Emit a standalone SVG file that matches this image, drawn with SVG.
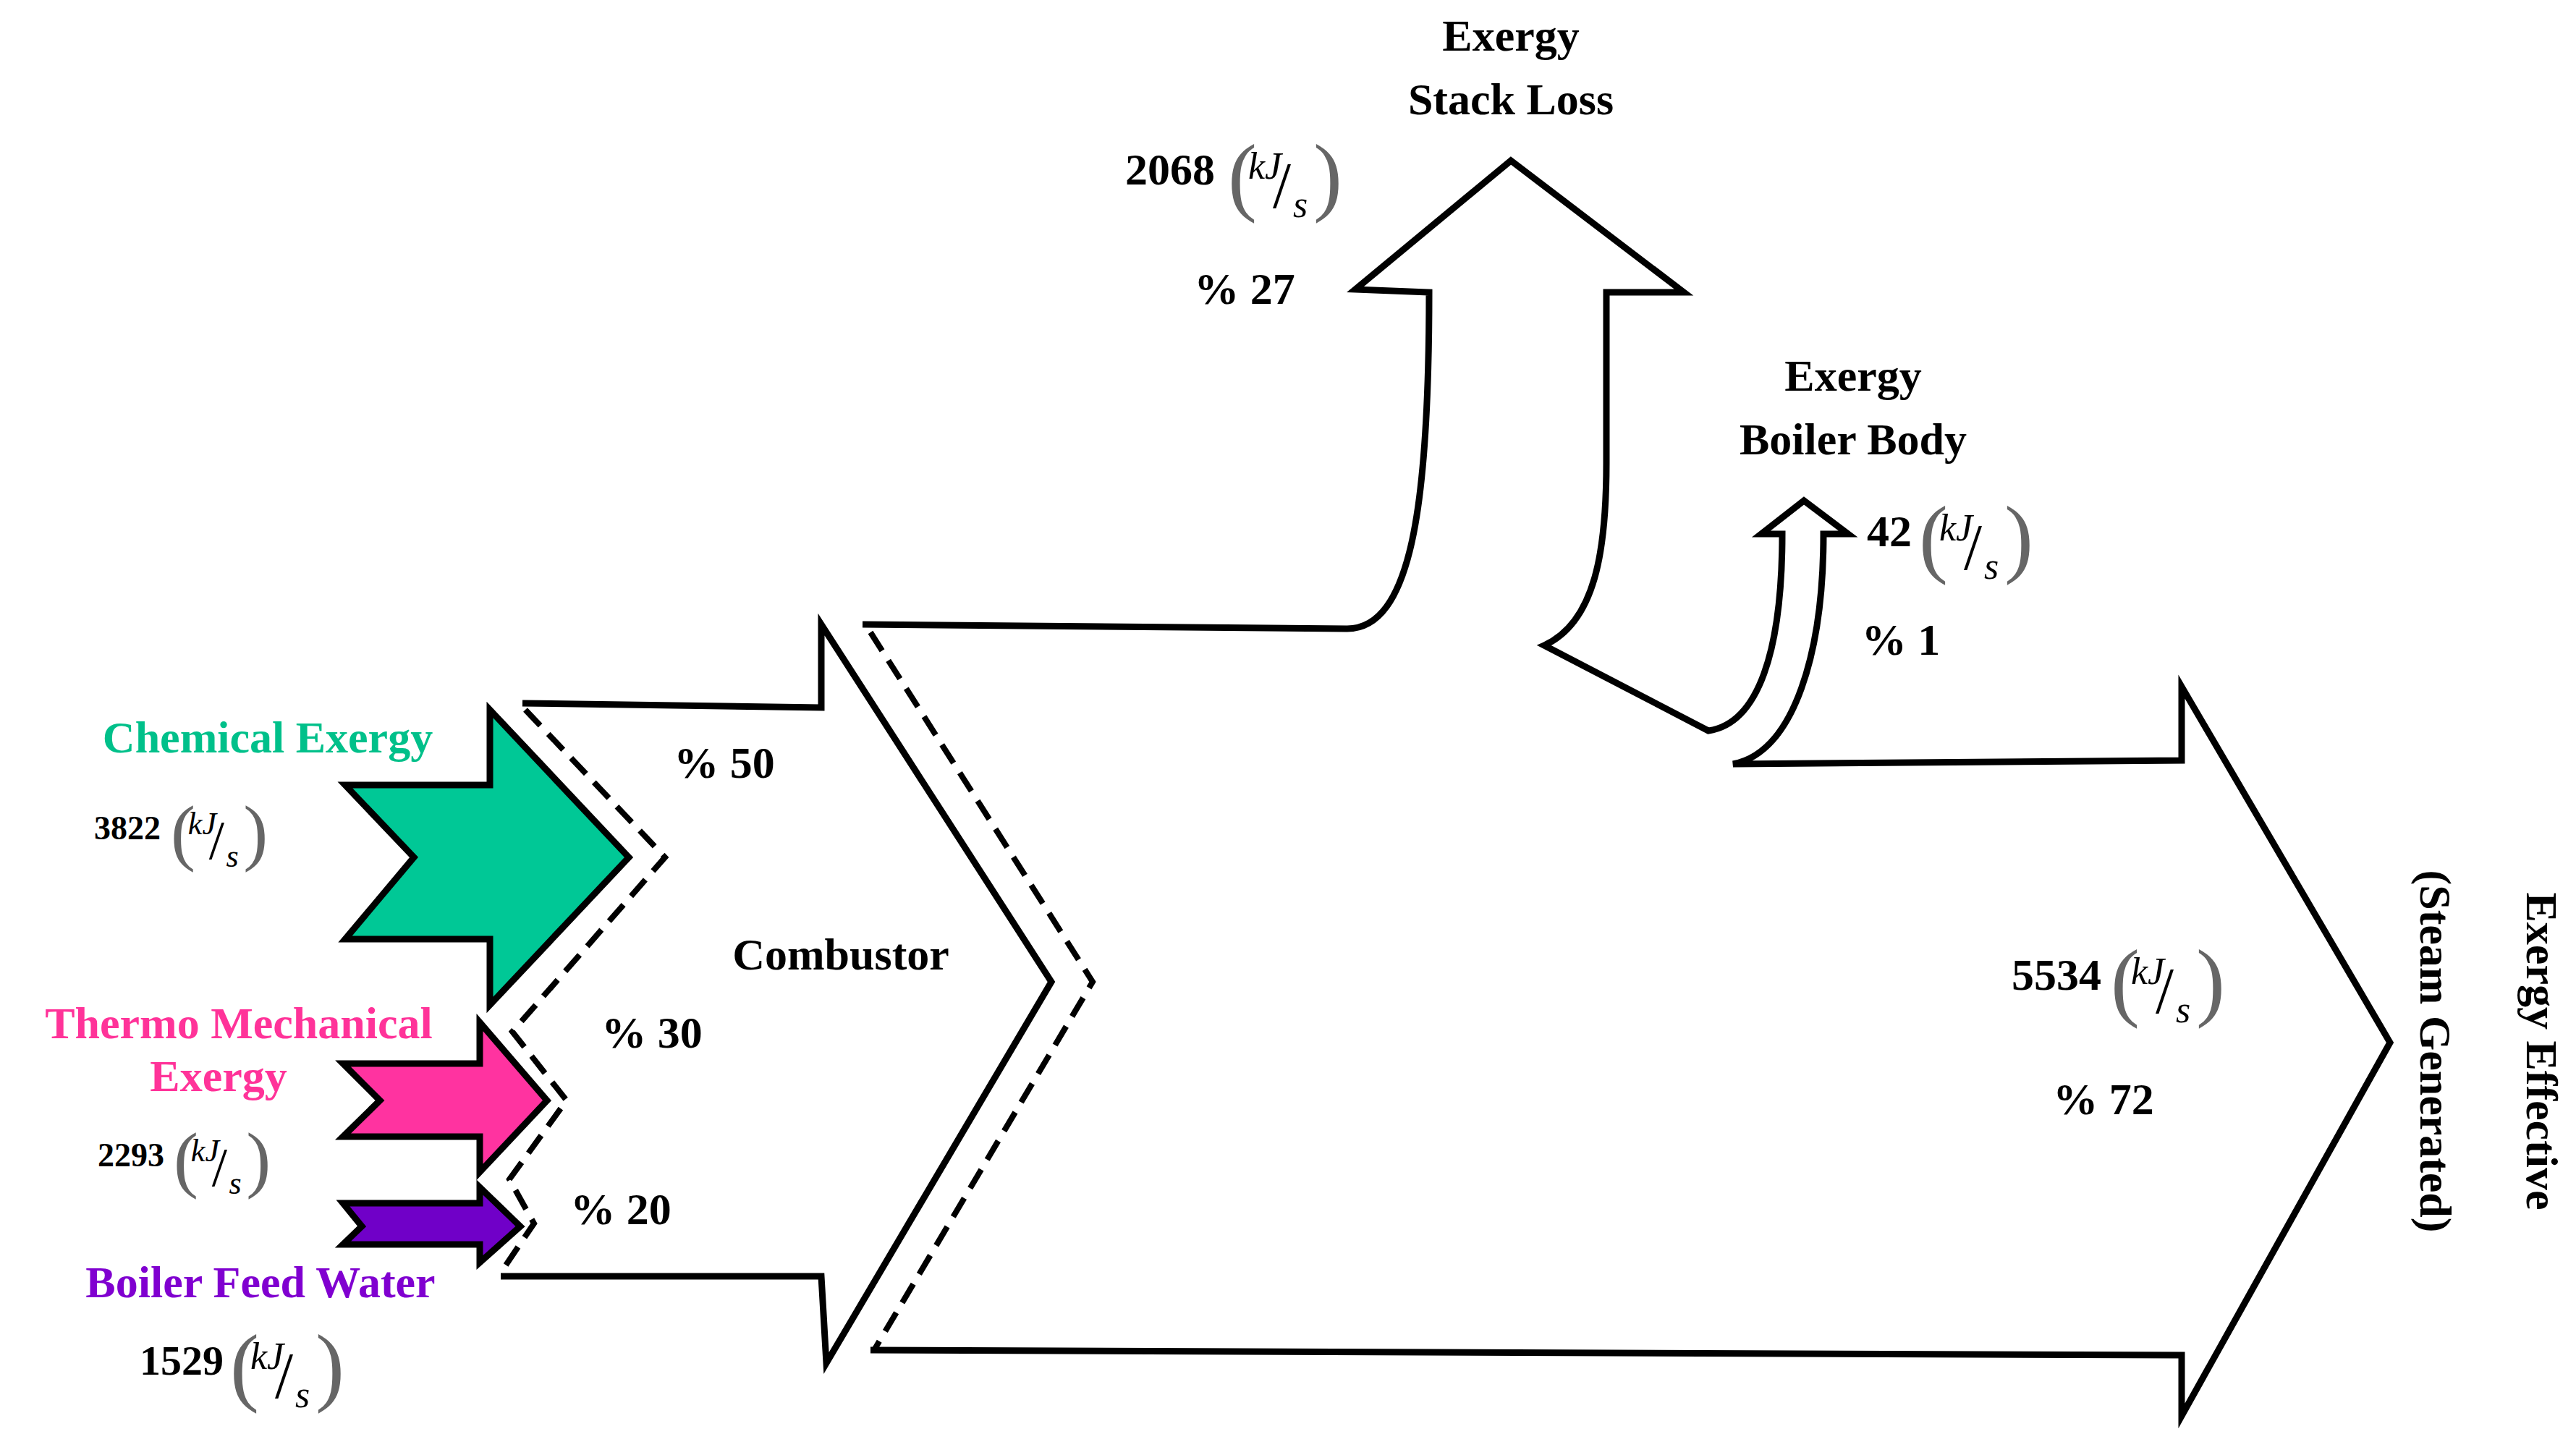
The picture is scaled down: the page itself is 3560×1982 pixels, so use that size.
<svg xmlns="http://www.w3.org/2000/svg" xmlns:xlink="http://www.w3.org/1999/xlink" width="3560" height="1982" viewBox="0 0 3560 1982">
<style>
.o{fill:none;stroke:#000;stroke-width:9;stroke-linejoin:miter}
.d{fill:none;stroke:#000;stroke-width:8;stroke-dasharray:30 16}
.t{font-family:"Liberation Serif",serif;font-weight:bold;font-size:62px;fill:#000}
.m{text-anchor:middle}
.fp{font-family:"Liberation Serif",serif;font-size:120px;fill:#666}
.fi{font-family:"Liberation Serif",serif;font-style:italic;font-size:52px;fill:#000}
.fs{font-family:"Liberation Serif",serif;font-size:90px;fill:#000}
</style>
<defs>
<g id="frac">
<text class="fp" x="0" y="28">(</text>
<text class="fi" x="28" y="-8">kJ</text>
<text class="fs" x="62" y="32">/</text>
<text class="fi" x="90" y="45">s</text>
<text class="fp" x="118" y="28">)</text>
</g>
</defs>
<rect width="3560" height="1982" fill="#fff"/>
<g id="connectors">
<path class="o" d="M722,972 L1135,978 L1135,863 L1453,1357 L1142,1884 L1135,1764 L692,1764"/>
<path class="d" d="M726,981 L919,1185 L708,1426 L783,1521 L704,1630 L738,1691 L692,1759"/>
<path class="d" d="M1203,874 L1510,1357 L1208,1866"/>
</g>
<g id="main-flow">
<path class="o" d="M1192,863 L1861,869 C1950,870 1975,700 1975,404 L1873,400 L2088,222 L2327,404 L2220,404 L2220,640 C2220,760 2205,860 2134,892 L2361,1010 C2430,1000 2463,900 2463,738 L2434,738 L2493,692 L2554,738 L2520,738 C2520,900 2480,1040 2395,1056 L3015,1051 L3015,949 L3303,1441 L3015,1957 L3015,1873 L1203,1866"/>
</g>
<g id="chemical">
<polygon points="677,981 869,1185 677,1389 677,1298 477,1298 572,1185 477,1085 677,1085" fill="#00C896" stroke="#000" stroke-width="9"/>
<text class="t m" x="370" y="1040" fill="#00C08A" style="fill:#00C08A">Chemical Exergy</text>
<text class="t" x="130" y="1160" style="font-size:46px">3822</text>
<use xlink:href="#frac" transform="translate(236,1160) scale(0.85)"/>
</g>
<g id="thermo">
<polygon points="663,1413 756,1521 663,1620 663,1571 474,1571 525,1521 474,1470 663,1470" fill="#FF33A0" stroke="#000" stroke-width="9"/>
<text class="t m" x="330" y="1435" style="fill:#FF3399">Thermo Mechanical</text>
<text class="t m" x="302" y="1508" style="fill:#FF3399">Exergy</text>
<text class="t" x="135" y="1612" style="font-size:46px">2293</text>
<use xlink:href="#frac" transform="translate(240,1612) scale(0.85)"/>
</g>
<g id="feedwater">
<polygon points="663,1641 719,1695 663,1745 663,1720 474,1720 500,1695 474,1663 663,1663" fill="#7000C8" stroke="#000" stroke-width="9"/>
<text class="t m" x="360" y="1793" style="fill:#8000D0">Boiler Feed Water</text>
<text class="t" x="193" y="1900" style="font-size:58px">1529</text>
<use xlink:href="#frac" transform="translate(318,1900)"/>
</g>
<g id="combustor">
<text class="t m" x="1162" y="1340">Combustor</text>
<text class="t m" x="1001" y="1075">% 50</text>
<text class="t m" x="901" y="1448">% 30</text>
<text class="t m" x="858" y="1692">% 20</text>
</g>
<g id="stack-loss">
<text class="t m" x="2088" y="70">Exergy</text>
<text class="t m" x="2088" y="158">Stack Loss</text>
<text class="t" x="1555" y="255">2068</text>
<use xlink:href="#frac" transform="translate(1697,255)"/>
<text class="t m" x="1720" y="420">% 27</text>
</g>
<g id="boiler-body">
<text class="t m" x="2561" y="540">Exergy</text>
<text class="t m" x="2561" y="628">Boiler Body</text>
<text class="t" x="2580" y="755">42</text>
<use xlink:href="#frac" transform="translate(2652,755)"/>
<text class="t m" x="2627" y="905">% 1</text>
</g>
<g id="effective">
<text class="t" x="2780" y="1368">5534</text>
<use xlink:href="#frac" transform="translate(2917,1368)"/>
<text class="t m" x="2907" y="1540">% 72</text>
<text class="t m" transform="translate(3492,1453) rotate(90)">Exergy  Effective</text>
<text class="t m" transform="translate(3345,1453) rotate(90)">(Steam Generated)</text>
</g>
</svg>
